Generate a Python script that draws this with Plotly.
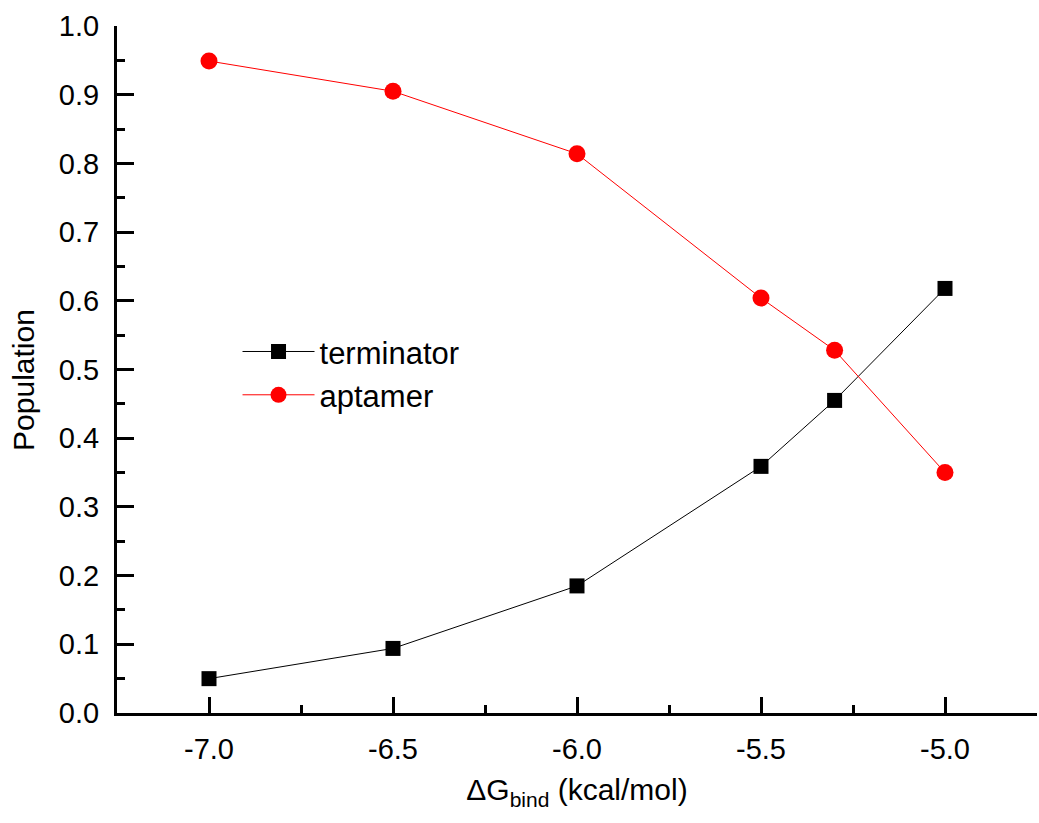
import plotly.graph_objects as go

dg = [-7.0, -6.5, -6.0, -5.5, -5.3, -5.0]
terminator = [0.050, 0.094, 0.185, 0.359, 0.455, 0.618]
aptamer = [0.949, 0.905, 0.814, 0.604, 0.528, 0.350]
xticks = [-7.0, -6.5, -6.0, -5.5, -5.0]
xticklabels = ["-7.0", "-6.5", "-6.0", "-5.5", "-5.0"]
yticks = [0.0, 0.1, 0.2, 0.3, 0.4, 0.5, 0.6, 0.7, 0.8, 0.9, 1.0]
yticklabels = ["0.0", "0.1", "0.2", "0.3", "0.4", "0.5", "0.6", "0.7", "0.8", "0.9", "1.0"]

fig = go.Figure()
fig.add_trace(go.Scatter(x=dg, y=terminator, mode="lines+markers", name="terminator",
                         line=dict(color="black", width=1),
                         marker=dict(symbol="square", size=15, color="black")))
fig.add_trace(go.Scatter(x=dg, y=aptamer, mode="lines+markers", name="aptamer",
                         line=dict(color="red", width=1),
                         marker=dict(symbol="circle", size=17, color="red")))

font = "Liberation Sans, Arial, sans-serif"
fig.update_layout(
    width=1039, height=823,
    margin=dict(l=117, r=2, t=26, b=110),
    plot_bgcolor="white", paper_bgcolor="white",
    font=dict(family=font, size=28, color="black"),
    showlegend=True,
    legend=dict(x=0.131, y=0.565, xanchor="left", yanchor="top",
                font=dict(size=31), itemwidth=72, bgcolor="rgba(0,0,0,0)",
                tracegroupgap=0),
    annotations=[dict(text="Population", xref="paper", yref="paper",
                      x=-0.101, y=0.485, xanchor="center", yanchor="middle",
                      textangle=-90, showarrow=False, font=dict(size=30))],
)
fig.update_xaxes(
    range=[-7.25, -4.75], showline=True, linecolor="black", linewidth=3,
    ticks="inside", ticklen=16, tickwidth=3, tickcolor="black",
    tickvals=xticks, ticktext=xticklabels, showgrid=False, zeroline=False,
    tickfont=dict(family=font, size=29, color="black"),
    minor=dict(ticks="inside", ticklen=8, tickwidth=3, tickcolor="black", dtick=0.25, tick0=-7.0, showgrid=False),
    ticklabelstandoff=8,
    title=dict(text="ΔG<sub>bind</sub> (kcal/mol)", font=dict(size=30), standoff=16),
)
fig.update_yaxes(
    range=[0, 1.0], showline=True, linecolor="black", linewidth=3,
    ticks="inside", ticklen=17, tickwidth=3, tickcolor="black",
    tickvals=yticks, ticktext=yticklabels, showgrid=False, zeroline=False,
    tickfont=dict(family=font, size=29, color="black"),
    minor=dict(ticks="inside", ticklen=8, tickwidth=3, tickcolor="black", dtick=0.05, tick0=0, showgrid=False),
    ticklabelstandoff=9,
)
fig.write_html("out.html")
